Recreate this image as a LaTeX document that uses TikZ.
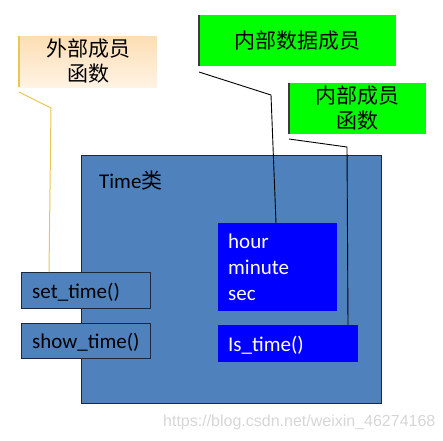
\documentclass[tikz,border=0pt]{standalone}
\usepackage{fontspec}
\setmainfont{Carlito}
\newfontfamily\cjk{Noto Sans CJK SC}
\newfontfamily\wmfont{Liberation Sans}
\definecolor{classblue}{RGB}{79,129,189}
\definecolor{boxedge}{RGB}{28,40,64}
\definecolor{pureblue}{RGB}{0,0,255}
\definecolor{puregreen}{RGB}{0,255,0}
\definecolor{accentgray}{RGB}{60,60,60}
\definecolor{calloutyellow}{RGB}{236,198,84}
\definecolor{orangetop}{RGB}{252,222,180}
\definecolor{orangebot}{RGB}{255,243,228}
\definecolor{wmgray}{RGB}{214,214,214}
\begin{document}
\begin{tikzpicture}[x=1pt,y=-1pt,
  box/.style={anchor=north west, inner sep=0pt, outer sep=0pt},
  classbox/.style={box, draw=boxedge, fill=classblue, line width=1pt},
  fieldbox/.style={box, fill=pureblue},
  notebox/.style={box, fill=puregreen},
  orangebox/.style={box, top color=orangetop, bottom color=orangebot},
  txt/.style={inner sep=0pt, font=\fontsize{21}{25}\selectfont},
  wtxt/.style={txt, text=white},
  cjktxt/.style={inner sep=0pt, align=center, font=\cjk\fontsize{21}{25}\selectfont},
  callout/.style={line width=0.9pt, draw=black},
  accent/.style={line width=1.4pt, draw=accentgray}
]
\useasboundingbox (0,0) rectangle (443,440);

% class box
\node[classbox, minimum width=300pt, minimum height=248pt] (cls) at (81,155) {};
\node[txt, anchor=base west] (clslbl) at (99,188) {Time{\cjk 类}};

% data members
\node[fieldbox, minimum width=119pt, minimum height=88pt] (hour) at (218,223) {};
\node[wtxt, anchor=base west] (hourt) at (228,248) {hour};
\node[wtxt, anchor=base west] (minutet) at (228,274) {minute};
\node[wtxt, anchor=base west] (sect) at (228,300) {sec};

% internal function
\node[fieldbox, minimum width=140pt, minimum height=37pt] (istime) at (218,325) {};
\node[wtxt, anchor=base west] (istimet) at (228,351) {Is\_time()};

% external functions
\node[classbox, minimum width=129pt, minimum height=36pt] (settime) at (21,272) {};
\node[txt, anchor=base west] (settimet) at (32,298) {set\_time()};
\node[classbox, minimum width=129pt, minimum height=35pt] (showtime) at (21,323) {};
\node[txt, anchor=base west] (showtimet) at (32,348) {show\_time()};

% callout boxes
\node[orangebox, minimum width=138pt, minimum height=51pt] (ext) at (19,36) {};
\node[cjktxt] (extt) at (88,61.5) {外部成员\\函数};
\draw[line width=1.2pt, draw=calloutyellow] (ext.north west) -- (ext.south west);

\node[notebox, minimum width=197pt, minimum height=51pt] (data) at (199,15) {};
\node[cjktxt] (datat) at (297.5,40.5) {内部数据成员};
\draw[accent] (data.north west) -- (data.south west);

\node[notebox, minimum width=137pt, minimum height=51pt] (intf) at (289,83) {};
\node[cjktxt] (intft) at (357.5,108.5) {内部成员\\函数};
\draw[accent] (intf.north west) -- (intf.south west);

% callout lines
\coordinate (e0) at (19,92);
\coordinate (e1) at (51,108);
\coordinate (e2) at (49,272);
\draw[line width=1pt, draw=calloutyellow] (e0) -- (e1) -- (e2 |- settime.north);

\coordinate (d0) at (199,72);
\coordinate (d1) at (271,95);
\coordinate (d2) at (276,223);
\draw[callout] (d0) -- (d1) -- (d2 |- hour.north);

\coordinate (f0) at (289,139);
\coordinate (f1) at (347,147);
\coordinate (f2) at (348,325);
\draw[callout] (f0) -- (f1) -- (f2 |- istime.north);

% watermark
\node[anchor=base west, inner sep=0pt, text=wmgray, font=\wmfont\fontsize{16}{19}\selectfont] (wm) at (163,426) {https://blog.csdn.net/weixin\_46274168};
\end{tikzpicture}
\end{document}
